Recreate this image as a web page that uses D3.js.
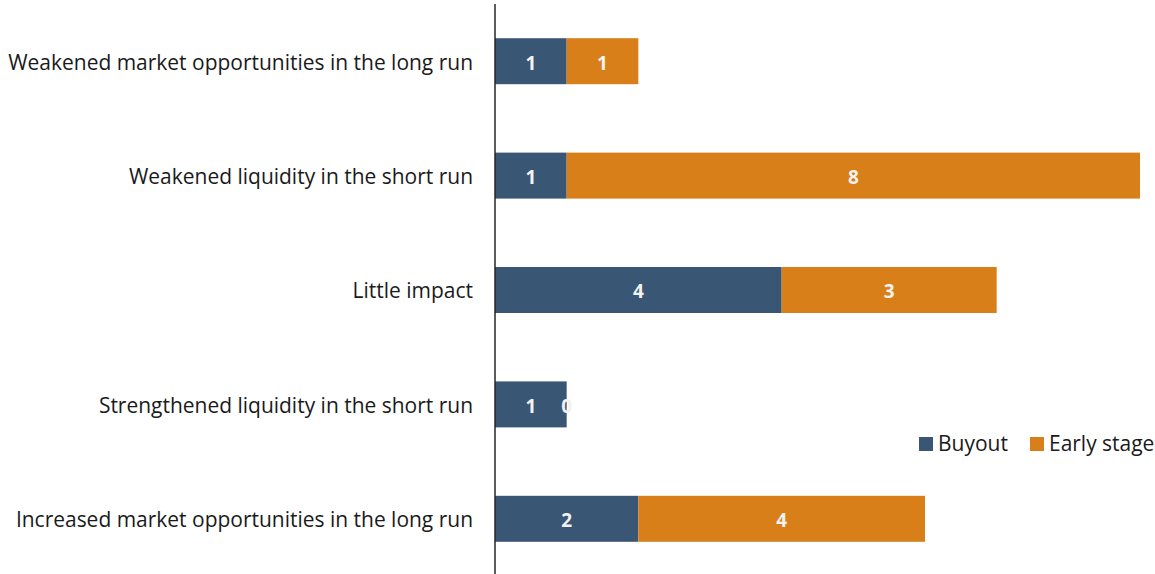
<!DOCTYPE html>
<html>
<head>
<meta charset="utf-8">
<script src="https://cdn.jsdelivr.net/npm/d3@7/dist/d3.min.js"></script>
<style>
  html, body { margin: 0; padding: 0; background: #fff; }
  svg { display: block; }
  text { font-family: "Open Sans", "Noto Sans", sans-serif; }
</style>
</head>
<body>
<svg id="chart" width="1155" height="574"></svg>
<script>
// Survey answers, top row first
const categories = [
  "Weakened market opportunities in the long run",
  "Weakened liquidity in the short run",
  "Little impact",
  "Strengthened liquidity in the short run",
  "Increased market opportunities in the long run"
];
const seriesNames = ["Buyout", "Early stage"];
const buyout = [1, 1, 4, 1, 2];
const earlyStage = [1, 8, 3, 0, 4];
const colors = ["#3a5675", "#d97f19"];

const rows = categories.map((c, i) => ({ category: c, Buyout: buyout[i], "Early stage": earlyStage[i] }));

const svg = d3.select("#chart");
const x0 = 495;
const x = d3.scaleLinear().domain([0, 9]).range([x0, 1140]);
const y = d3.scaleBand().domain(categories).range([4, 576]).paddingInner(0.598).paddingOuter(0.299);

const stack = d3.stack().keys(seriesNames)(rows);

const layers = svg.append("g").selectAll("g")
  .data(stack).join("g")
  .attr("fill", (d, i) => colors[i]);

layers.selectAll("rect")
  .data(d => d)
  .join("rect")
  .attr("x", d => x(d[0]))
  .attr("y", d => y(d.data.category))
  .attr("width", d => x(d[1]) - x(d[0]))
  .attr("height", y.bandwidth());

// value labels centred in each segment
const labels = svg.append("g");
stack.forEach(layer => {
  labels.selectAll(null)
    .data(layer)
    .join("text")
    .attr("x", d => (x(d[0]) + x(d[1])) / 2)
    .attr("y", d => y(d.data.category) + y.bandwidth() / 2 + 1.5)
    .attr("dy", "0.36em")
    .attr("text-anchor", "middle")
    .attr("font-size", 19)
    .attr("font-weight", "bold")
    .attr("fill", "#f2f2f2")
    .text(d => d[1] - d[0]);
});

// category axis on the left
const yAxis = svg.append("g")
  .attr("transform", `translate(${x0},0)`)
  .call(d3.axisLeft(y).tickSize(0).tickPadding(22));
yAxis.select(".domain").remove();
yAxis.append("line")
  .attr("x1", 0).attr("x2", 0).attr("y1", 4).attr("y2", 574)
  .attr("stroke", "#262626").attr("stroke-width", 1.5);
yAxis.selectAll(".tick text")
  .attr("font-size", 20)
  .attr("fill", "#1a1a1a")
  .attr("font-family", "\"Open Sans\", \"Noto Sans\", sans-serif");

// fit the longest label to its available width
const longest = yAxis.selectAll(".tick text").nodes()[0];
const w = longest.getComputedTextLength();
const fs = 20 * 465 / w;
yAxis.selectAll(".tick text").attr("font-size", fs).attr("dy", "0.4em");

// legend
const legend = svg.append("g").attr("transform", "translate(919,444)");
const legendX = [0, 111];
seriesNames.forEach((name, i) => {
  const g = legend.append("g").attr("transform", `translate(${legendX[i]},0)`);
  g.append("rect").attr("x", 0).attr("y", -7).attr("width", 14).attr("height", 14).attr("fill", colors[i]);
  g.append("text").attr("x", 19).attr("y", 0).attr("dy", "0.35em")
    .attr("font-size", fs).attr("fill", "#1a1a1a").text(name);
});
</script>
</body>
</html>
